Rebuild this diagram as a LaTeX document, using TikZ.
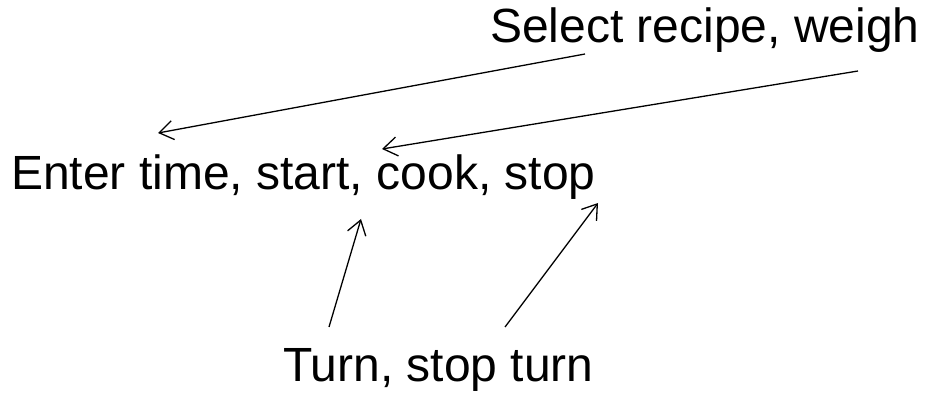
\documentclass[tikz,border=0pt]{standalone}
\usepackage{fontspec}
\setmainfont{Liberation Sans}
\usetikzlibrary{arrows.meta}
\tikzset{
  lbl/.style={anchor=base west,inner sep=0pt,font=\fontsize{48}{52}\selectfont},
  flow/.style={-{Straight Barb[length=14pt,width=19pt]},line width=1.3pt}
}
\begin{document}
\begin{tikzpicture}[x=1pt,y=1pt]
   \useasboundingbox (0,0) rectangle (925,393);
   \node[lbl] (recipe) at (490,350) {Select recipe, weigh};
   \node[lbl] (enter)  at (11,203)  {Enter time, start, cook, stop};
   \node[lbl] (turn)   at (283,11)  {Turn, stop turn};
   \coordinate (r1) at (585,339);
   \coordinate (r2) at (858,322);
   \coordinate (e1) at (158,260);
   \coordinate (e2) at (382,244);
   \coordinate (e3) at (361,174);
   \coordinate (e4) at (598,190);
   \coordinate (t1) at (329,66);
   \coordinate (t2) at (505,66);
   \draw[flow] (r1) -- (e1);
   \draw[flow] (r2) -- (e2);
   \draw[flow] (t1) -- (e3);
   \draw[flow] (t2) -- (e4);
\end{tikzpicture}
\end{document}
